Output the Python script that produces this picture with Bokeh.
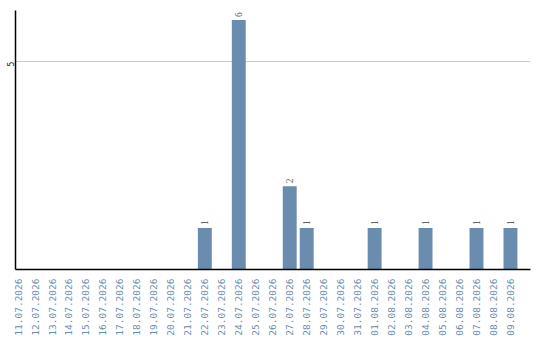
import math
from bokeh.plotting import figure
from bokeh.models import ColumnDataSource, FixedTicker, Range1d, LabelSet
from bokeh.embed import file_html
from bokeh.resources import INLINE

# Daily counts, 11.07.2026 – 09.08.2026
dates = [
    "11.07.2026", "12.07.2026", "13.07.2026", "14.07.2026", "15.07.2026",
    "16.07.2026", "17.07.2026", "18.07.2026", "19.07.2026", "20.07.2026",
    "21.07.2026", "22.07.2026", "23.07.2026", "24.07.2026", "25.07.2026",
    "26.07.2026", "27.07.2026", "28.07.2026", "29.07.2026", "30.07.2026",
    "31.07.2026", "01.08.2026", "02.08.2026", "03.08.2026", "04.08.2026",
    "05.08.2026", "06.08.2026", "07.08.2026", "08.08.2026", "09.08.2026",
]
counts = [
    0, 0, 0, 0, 0,
    0, 0, 0, 0, 0,
    0, 1, 0, 6, 0,
    0, 2, 1, 0, 0,
    0, 1, 0, 0, 1,
    0, 0, 1, 0, 1,
]
y_ticks = [5]

idx = list(range(len(dates)))
src = ColumnDataSource(dict(x=idx, top=counts))

nz = [i for i, c in enumerate(counts) if c > 0]
lbl = ColumnDataSource(dict(
    x=[idx[i] for i in nz],
    y=[counts[i] for i in nz],
    t=[str(counts[i]) for i in nz],
))

mono = "DejaVu Sans Mono"

p = figure(
    width=540, height=340,
    output_backend="svg", toolbar_location=None,
    x_range=Range1d(-0.15, 30.18),
    y_range=Range1d(0, 6.23),
    min_border_left=0, min_border_right=10,
    min_border_top=10, min_border_bottom=71,
)
p.outline_line_color = None
p.background_fill_color = "white"

p.vbar(x="x", top="top", width=0.82, bottom=0, source=src,
       fill_color="#6a8caf", line_color=None)

# value labels above the bars, turned to read upward
labels = LabelSet(x="x", y="y", text="t", source=lbl, angle=math.pi / 2,
                  angle_units="rad", text_align="left",
                  text_baseline="middle", y_offset=3,
                  text_font=mono, text_font_size="9.5px",
                  text_color="#666666")
p.add_layout(labels)

# x axis: one label per day, rotated
xa = p.xaxis[0]
xa.ticker = FixedTicker(ticks=idx)
xa.major_label_overrides = {i: d for i, d in zip(idx, dates)}
xa.major_label_orientation = math.pi / 2
xa.major_label_text_font = mono
xa.major_label_text_font_size = "9.5px"
xa.major_label_text_color = "#6a8caf"
xa.major_tick_line_color = None
xa.minor_tick_line_color = None
xa.major_tick_out = 0
xa.major_label_standoff = 9
xa.axis_line_color = "black"
xa.axis_line_width = 1.5

# y axis: a single rotated tick label, no tick marks
ya = p.yaxis[0]
ya.ticker = FixedTicker(ticks=y_ticks)
ya.major_label_orientation = math.pi / 2
ya.major_label_text_font = mono
ya.major_label_text_font_size = "8px"
ya.major_label_text_color = "#222222"
ya.major_label_standoff = 5
ya.major_tick_line_color = None
ya.minor_tick_line_color = None
ya.major_tick_out = 0
ya.major_tick_in = 0
ya.axis_line_color = "black"
ya.axis_line_width = 1.5

p.xgrid.grid_line_color = None
p.ygrid.ticker = FixedTicker(ticks=y_ticks)
p.ygrid.grid_line_color = "#cccccc"

open("out.html", "w").write(file_html(p, INLINE))
